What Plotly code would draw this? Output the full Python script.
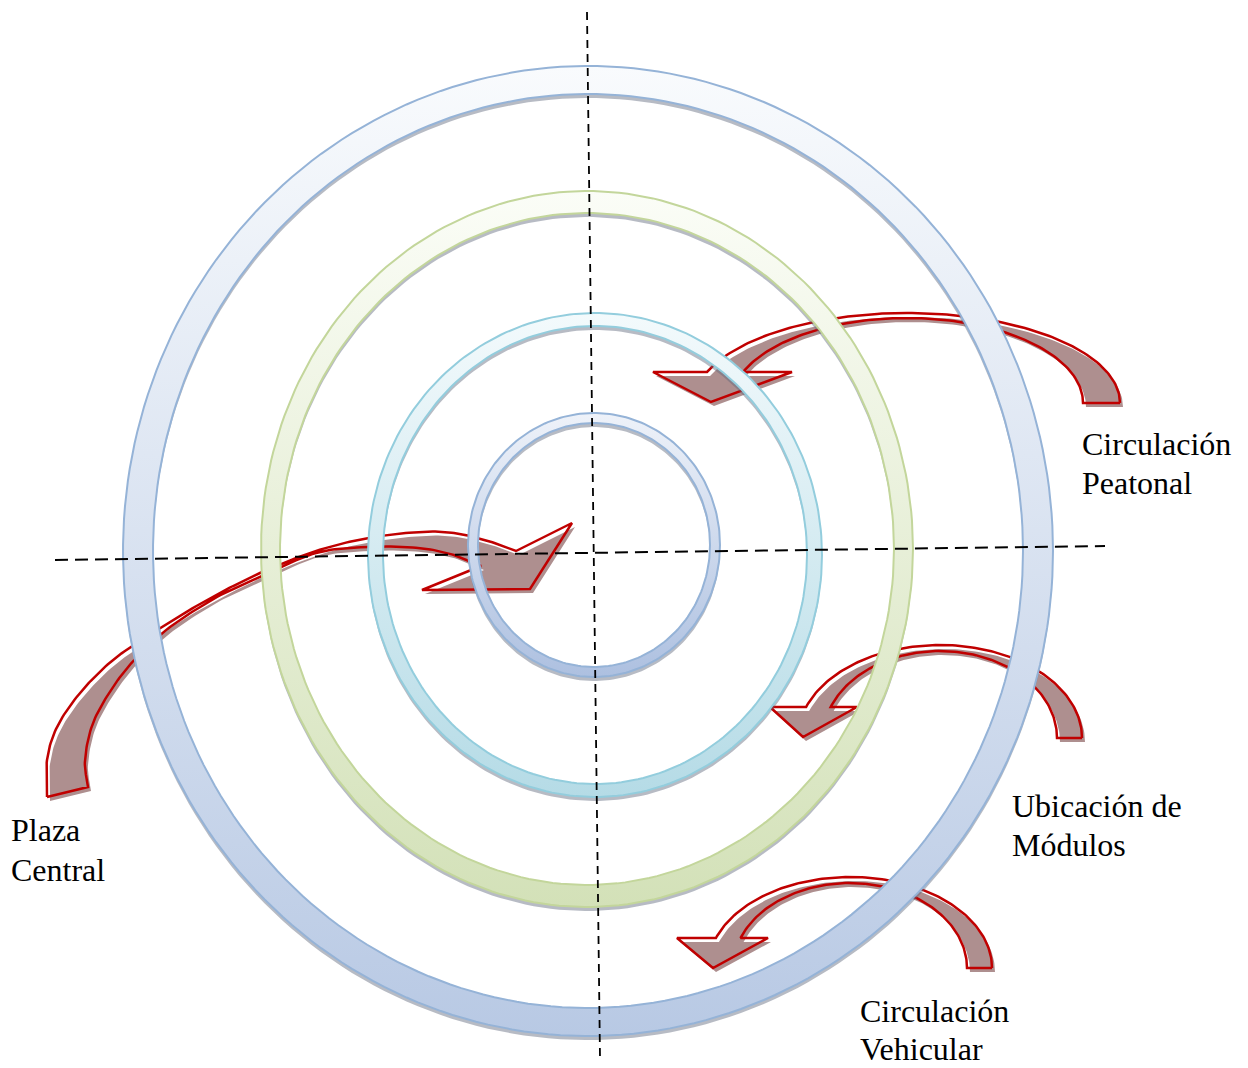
import numpy as np
import plotly.graph_objects as go

W, H = 1248, 1068

# --- rings (pixel space, y grows downward) ---
ring_names = ["outer", "green", "cyan", "inner"]
ring_cx = [588, 587, 595, 594]
ring_cy = [551, 549, 555, 545]
ring_rx_out = [465, 326, 227, 126]
ring_ry_out = [485, 358, 242, 132]
ring_rx_in = [435, 307, 212, 116]
ring_ry_in = [457, 336, 229, 122]
ring_line = ["#95b3d7", "#c3d69b", "#93cddd", "#95b3d7"]
ring_top = ["#f9fbfd", "#fbfdf7", "#f3fafc", "#eef2f9"]
ring_bottom = ["#b8c9e4", "#d3e1b8", "#b5dbe6", "#adc0e0"]

# --- curved "down" arrows: apex x, tail y, outer/inner radii, head ---
arr_cx = [907, 940, 850]
arr_cy = [403, 738, 968]
arr_rxo = [213, 142, 142]
arr_ryo = [90, 93, 91]
arr_rxi = [176, 117, 117]
arr_ryi = [85, 87, 85]
arr_base_y = [372, 707, 938]
arr_head_l = [653, 770, 677]
arr_head_r = [792, 857, 768]
arr_tip_x = [711, 803, 713]
arr_tip_y = [402, 737, 968]

# --- "Plaza Central" arrow edges ---
plaza_outer_x = [47, 47, 57, 80, 113, 157, 207, 260, 316, 368, 419, 454, 488, 516]
plaza_outer_y = [797, 760, 727, 693, 660, 630, 600, 573, 551, 538, 532, 533, 541, 551]
plaza_inner_x = [88, 85, 93, 113, 137, 170, 217, 262, 316, 368, 419, 454, 481]
plaza_inner_y = [787, 760, 723, 687, 657, 627, 597, 576, 553, 547, 548, 555, 566]
plaza_head_x = [572, 530, 422]
plaza_head_y = [523, 589, 590]

# --- dashed axes ---
axis_h_x = [55, 1105]
axis_h_y = [560, 546]
axis_v_x = [587, 600]
axis_v_y = [12, 1058]

# one entry per text line
label_lines = ["Circulación", "Peatonal", "Ubicación de", "Módulos",
               "Plaza", "Central", "Circulación", "Vehicular"]
label_x = [1081, 1081, 1011, 1011, 10, 10, 859, 859]
label_y = [444, 483, 806, 845, 830, 870, 1011, 1049]

ARROW_RED = "#c00000"
ARROW_FILL = "#ae8f8f"


def ellipse(cx, cy, rx, ry, t0, t1, n=240):
    t = np.linspace(t0, t1, n)
    return cx + rx * np.cos(t), cy - ry * np.sin(t)


def spline(px, py, n=14):
    P = np.column_stack([px, py]).astype(float)
    P = np.vstack([2 * P[0] - P[1], P, 2 * P[-1] - P[-2]])
    out = []
    t = np.linspace(0, 1, n, endpoint=False)[:, None]
    for i in range(1, len(P) - 2):
        p0, p1, p2, p3 = P[i - 1:i + 3]
        out.append(0.5 * (2 * p1 + (-p0 + p2) * t + (2 * p0 - 5 * p1 + 4 * p2 - p3) * t ** 2
                          + (-p0 + 3 * p1 - 3 * p2 + p3) * t ** 3))
    out.append(P[-2][None, :])
    pts = np.vstack(out)
    return pts[:, 0], pts[:, 1]


fig = go.Figure()


def add_arrow(x, y):
    x = np.append(x, x[0])
    y = np.append(y, y[0])
    # offset shadow-fill, then the red outline
    fig.add_trace(go.Scatter(x=x + 3, y=y + 4, mode="lines", fill="toself",
                             fillcolor=ARROW_FILL, line=dict(width=0),
                             hoverinfo="skip", showlegend=False))
    fig.add_trace(go.Scatter(x=x, y=y, mode="lines", line=dict(color=ARROW_RED, width=2.5),
                             hoverinfo="skip", showlegend=False))


# curved down arrows
for i in range(len(arr_cx)):
    cx, cy = arr_cx[i], arr_cy[i]
    ao = np.pi - np.arcsin((cy - arr_base_y[i]) / arr_ryo[i])
    ai = np.pi - np.arcsin((cy - arr_base_y[i]) / arr_ryi[i])
    xo, yo = ellipse(cx, cy, arr_rxo[i], arr_ryo[i], 0, ao, 120)
    xi, yi = ellipse(cx, cy, arr_rxi[i], arr_ryi[i], ai, 0, 120)
    xs = np.concatenate([xo, [arr_head_l[i], arr_tip_x[i], arr_head_r[i]], xi])
    ys = np.concatenate([yo, [arr_base_y[i], arr_tip_y[i], arr_base_y[i]], yi])
    add_arrow(xs, ys)

# plaza central arrow
xo, yo = spline(plaza_outer_x, plaza_outer_y)
xi, yi = spline(plaza_inner_x[::-1], plaza_inner_y[::-1])
add_arrow(np.concatenate([xo, plaza_head_x, xi]), np.concatenate([yo, plaza_head_y, yi]))

# rings
for i in range(len(ring_names)):
    xo, yo = ellipse(ring_cx[i], ring_cy[i], ring_rx_out[i], ring_ry_out[i], 0, 2 * np.pi)
    xi, yi = ellipse(ring_cx[i], ring_cy[i], ring_rx_in[i], ring_ry_in[i], 2 * np.pi, 0)
    xr = np.concatenate([xo, xi])
    yr = np.concatenate([yo, yi])
    # soft drop shadow under the ring
    fig.add_trace(go.Scatter(x=xr, y=yr + 4, mode="lines", fill="toself",
                             fillcolor="rgba(95,105,125,0.45)", line=dict(width=0),
                             hoverinfo="skip", showlegend=False))
    top = ring_cy[i] - ring_ry_out[i]
    bot = ring_cy[i] + ring_ry_out[i]
    fig.add_trace(go.Scatter(x=xr, y=yr, mode="lines", fill="toself", line=dict(width=0),
                             fillcolor=ring_bottom[i],
                             fillgradient=dict(type="vertical", start=top, stop=bot,
                                               colorscale=[[0, ring_top[i]], [1, ring_bottom[i]]]),
                             hoverinfo="skip", showlegend=False))
    for ex, ey in ((xo, yo), (xi, yi)):
        fig.add_trace(go.Scatter(x=ex, y=ey, mode="lines", line=dict(color=ring_line[i], width=2),
                                 hoverinfo="skip", showlegend=False))

# dashed guide lines
fig.add_trace(go.Scatter(x=axis_h_x, y=axis_h_y, mode="lines",
                         line=dict(color="black", width=2, dash="13px,7px"),
                         hoverinfo="skip", showlegend=False))
fig.add_trace(go.Scatter(x=axis_v_x, y=axis_v_y, mode="lines",
                         line=dict(color="black", width=1.8, dash="8px,6px"),
                         hoverinfo="skip", showlegend=False))

for t, x, y in zip(label_lines, label_x, label_y):
    fig.add_annotation(x=x, y=y, text=t, showarrow=False, xanchor="left", yanchor="middle",
                       align="left", borderpad=0,
                       font=dict(family="Liberation Serif, Times New Roman, serif", size=32, color="black"))

fig.update_layout(
    width=W, height=H, margin=dict(l=0, r=0, t=0, b=0),
    paper_bgcolor="white", plot_bgcolor="white",
    xaxis=dict(range=[0, W], visible=False, fixedrange=True),
    yaxis=dict(range=[H, 0], visible=False, fixedrange=True),
)

fig.write_html("out.html", config={"displayModeBar": False},
               post_script="document.body.style.margin='0';")
